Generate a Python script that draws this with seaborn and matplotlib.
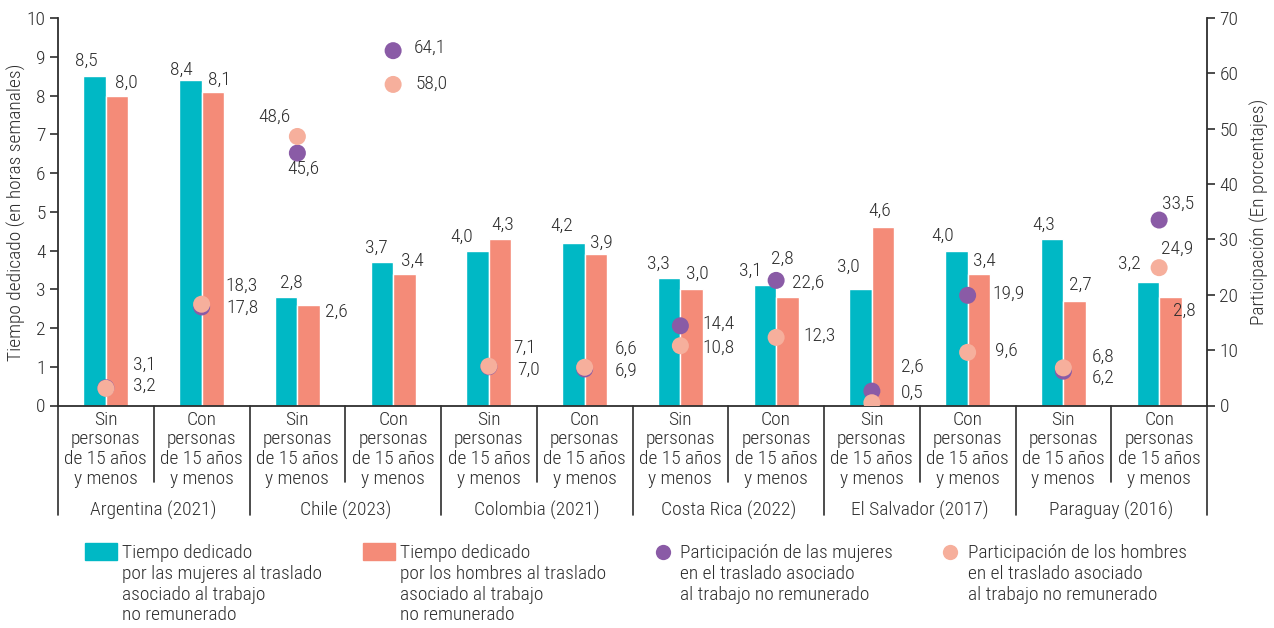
import matplotlib
matplotlib.use('Agg')
import matplotlib.pyplot as plt
import matplotlib.transforms as mtransforms
from matplotlib import font_manager
from matplotlib.patches import Rectangle
from matplotlib.lines import Line2D
import pandas as pd
import seaborn as sns

# datos
paises = ['Argentina (2021)', 'Chile (2023)', 'Colombia (2021)',
          'Costa Rica (2022)', 'El Salvador (2017)', 'Paraguay (2016)']
hogares = ['Sin\npersonas\nde 15 años\ny menos', 'Con\npersonas\nde 15 años\ny menos']

horas_mujeres = [8.5, 8.4, 2.8, 3.7, 4.0, 4.2, 3.3, 3.1, 3.0, 4.0, 4.3, 3.2]
horas_hombres = [8.0, 8.1, 2.6, 3.4, 4.3, 3.9, 3.0, 2.8, 4.6, 3.4, 2.7, 2.8]
part_mujeres = [3.2, 17.8, 45.6, 64.1, 7.0, 6.6, 14.4, 22.6, 2.6, 19.9, 6.2, 33.5]
part_hombres = [3.1, 18.3, 48.6, 58.0, 7.1, 6.9, 10.8, 12.3, 0.5, 9.6, 6.8, 24.9]

# desplazamientos de etiquetas (pixeles)
off_bar_m = [(-8, 15), (-9, 10), (5, 14), (-5, 14), (-16, 14), (-12, 17),
             (-11, 14), (-14, 15), (-12, 22), (-14, 15), (-8, 14), (-18, 18)]
off_bar_h = [(9, 13), (6, 12), (28, -7), (8, 13), (3, 14), (5, 12),
             (6, 15), (-5, 38), (-3, 16), (5, 13), (6, 16), (14, -14)]
off_pt_m = [(39, 2), (41, -1), (6, -16), (37, 3), (40, -3), (42, 20),
            (38, 2), (32, -2), (40, 24), (41, 2), (40, -7), (19, 16)]
off_pt_h = [(39, 24), (40, 18), (-23, 20), (38, 1), (36, 18), (42, -3),
            (38, -2), (43, 2), (40, 10), (39, 2), (40, 11), (18, 19)]

TEAL = '#00B8C5'
SALMON = '#F48B78'
PURPLE = '#8A5BA6'
PINK = '#F6AF9C'
TXT = '#2e2e2e'
LINE = '#2e2e2e'


def pick_font(cands):
    for c in cands:
        try:
            font_manager.findfont(font_manager.FontProperties(family=c),
                                  fallback_to_default=False)
            return c
        except ValueError:
            pass
    return 'DejaVu Sans'


sns.set_style('white')
font = pick_font(['Roboto Condensed', 'Liberation Sans Narrow', 'Roboto'])
plt.rcParams['font.family'] = [font, 'DejaVu Sans']
plt.rcParams['font.weight'] = 'light'
plt.rcParams['axes.labelweight'] = 'light'
plt.rcParams['text.color'] = TXT

cats = [f'{p}|{h}' for p in paises for h in ('Sin', 'Con')]
df = pd.DataFrame({
    'cat': cats * 2,
    'sexo': ['Mujeres'] * 12 + ['Hombres'] * 12,
    'horas': horas_mujeres + horas_hombres,
})

fig = plt.figure(figsize=(12.74, 6.28), dpi=100)
ax = fig.add_axes([58 / 1274, 1 - 405.5 / 628, 1149 / 1274, 387.5 / 628])

sns.barplot(data=df, x='cat', y='horas', hue='sexo', order=cats,
            hue_order=['Mujeres', 'Hombres'], palette=[TEAL, SALMON],
            width=0.47, saturation=1, legend=False, ax=ax)
ax.set_xlim(-0.5, 11.5)
ax.set_ylim(0, 10)
ax.set_yticks(range(0, 11))
ax.set_xticks([])
ax.set_xlabel('')
ax.set_ylabel('Tiempo dedicado (en horas semanales)', fontsize=14,
              fontweight='light', color=TXT)
ax.yaxis.set_label_coords(-0.028, 0.5)
for s in ['top', 'right']:
    ax.spines[s].set_visible(False)
for s in ['left', 'bottom']:
    ax.spines[s].set_color(LINE)
    ax.spines[s].set_linewidth(1.3)
ax.tick_params(axis='y', direction='out', length=6, width=1.2, color=LINE,
               labelsize=14, labelcolor=TXT, pad=3, left=True)

fmt = lambda v: f'{v:.1f}'.replace('.', ',')

for cont, vals, offs in zip(ax.containers, [horas_mujeres, horas_hombres],
                            [off_bar_m, off_bar_h]):
    for bar, v, (dx, dy) in zip(cont, vals, offs):
        xc = bar.get_x() + bar.get_width() / 2
        ax.annotate(fmt(v), (xc, bar.get_height()), xytext=(dx, dy),
                    textcoords='offset pixels', ha='center', va='center',
                    fontsize=14, color=TXT)

ax2 = ax.twinx()
pos = list(range(12))
sns.scatterplot(x=pos, y=part_mujeres, color=PURPLE, s=150, edgecolor='none',
                ax=ax2, zorder=3)
sns.scatterplot(x=pos, y=part_hombres, color=PINK, s=150, edgecolor='none',
                ax=ax2, zorder=4)
ax2.set_ylim(0, 70)
ax2.set_xlim(-0.5, 11.5)
ax2.set_yticks(range(0, 71, 10))
ax2.set_ylabel('Participación (En porcentajes)', fontsize=14,
               fontweight='light', color=TXT)
ax2.yaxis.set_label_coords(1.037, 0.5)
for s in ['top', 'left', 'bottom']:
    ax2.spines[s].set_visible(False)
ax2.spines['right'].set_color(LINE)
ax2.spines['right'].set_linewidth(1.3)
ax2.tick_params(axis='y', direction='out', length=6, width=1.2, color=LINE,
                labelsize=14, labelcolor=TXT, pad=3, right=True)

for vals, offs in [(part_mujeres, off_pt_m), (part_hombres, off_pt_h)]:
    for x, v, (dx, dy) in zip(pos, vals, offs):
        ax2.annotate(fmt(v), (x, v), xytext=(dx, dy), textcoords='offset pixels',
                     ha='center', va='center', fontsize=14, color=TXT, zorder=5)

# eje categórico inferior
trans = mtransforms.blended_transform_factory(ax.transData, ax.transAxes)
for i in range(13):
    xb = i - 0.5
    y_end = -0.283 if i % 2 == 0 else -0.197
    ax.plot([xb, xb], [0, y_end], color=LINE, lw=1.2, transform=trans,
            clip_on=False)
for i in range(12):
    ax.text(i, -0.113, hogares[i % 2], transform=trans, ha='center',
            va='center', fontsize=14, linespacing=1.12, color=TXT)
for j, p in enumerate(paises):
    ax.text(2 * j + 0.5, -0.271, p, transform=trans, ha='center', va='center',
            fontsize=14, color=TXT)

# leyenda
ley = [
    ('rect', TEAL, 85, 'Tiempo dedicado\npor las mujeres al traslado\nasociado al trabajo\nno remunerado', 122),
    ('rect', SALMON, 363, 'Tiempo dedicado\npor los hombres al traslado\nasociado al trabajo\nno remunerado', 400),
    ('dot', PURPLE, 663, 'Participación de las mujeres\nen el traslado asociado\nal trabajo no remunerado', 680),
    ('dot', PINK, 950, 'Participación de los hombres\nen el traslado asociado\nal trabajo no remunerado', 968),
]
W, H = 1274, 628
for kind, col, hx, lab, tx in ley:
    if kind == 'rect':
        fig.add_artist(Rectangle((hx / W, 1 - 560 / H), 32 / W, 17 / H,
                                 color=col, transform=fig.transFigure))
    else:
        fig.add_artist(Line2D([hx / W], [1 - 552 / H], marker='o', markersize=11,
                              color=col, markeredgewidth=0,
                              transform=fig.transFigure))
    fig.text(tx / W, 1 - 544 / H, lab, ha='left', va='top', fontsize=14,
             linespacing=1.2, color=TXT)

fig.savefig('out.png', dpi=100)
